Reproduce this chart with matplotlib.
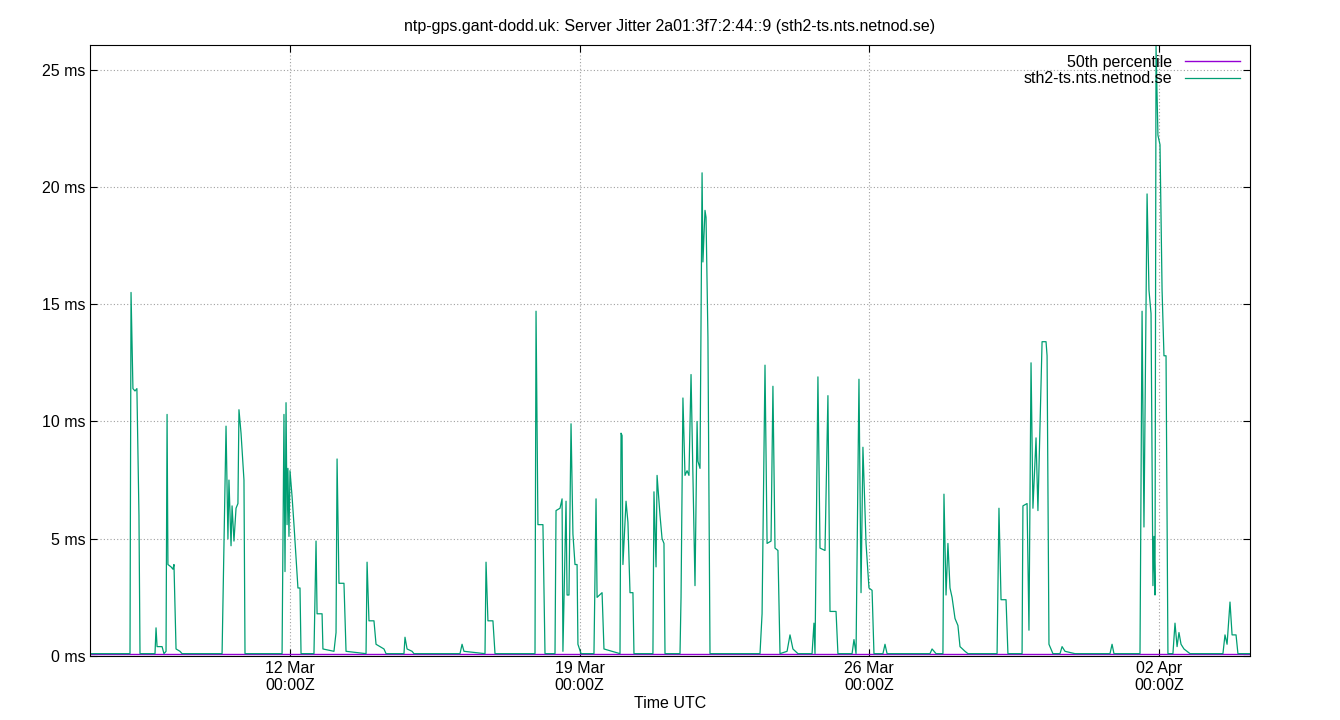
import matplotlib
matplotlib.use("Agg")
import matplotlib.pyplot as plt
import matplotlib.dates as mdates
import numpy as np
import datetime as dt

plt.rcParams['font.family'] = ['Liberation Sans', 'DejaVu Sans']

start = dt.datetime(2025, 3, 7, 4, 0)
hours = [0, 23.2, 23.8, 24.9, 26.1, 27.2, 28.4, 29.0, 37.7, 38.3, 38.9, 41.8, 42.9, 44.1, 44.7, 45.2, 47.0, 48.1, 48.7, 49.9, 52.2, 53.4,
         76.6, 78.9, 80.0, 80.6, 81.8, 82.4, 83.5, 84.7, 85.8, 86.4, 87.6, 89.3, 89.9,
         111.4, 112.5, 113.1, 113.7, 114.3, 114.8, 115.4, 116.0, 117.2, 118.3, 119.5, 120.6, 121.8, 122.4,
         129.9, 131.1, 131.7, 134.6, 135.1, 141.5, 142.7, 143.3, 144.4, 147.3, 148.5,
         160.1, 160.7, 161.8, 164.7, 165.9, 170.5, 171.7, 182.1, 182.7, 183.9, 186.8, 187.9,
         214.6, 215.8, 216.9, 229.1, 229.7, 230.8, 233.7, 234.9,
         258.1, 258.7, 259.8, 262.7, 263.9, 269.7, 270.3, 272.6, 273.8, 274.3, 276.1, 276.7, 277.8, 279.0, 280.1, 281.3, 282.5, 283.0, 284.8,
         292.3, 293.5, 294.1, 297.0, 298.1, 307.4, 308.0, 308.6, 309.1, 310.9, 312.0, 313.2, 314.9, 315.5,
         326.5, 327.1, 328.3, 328.9, 330.6, 331.8, 332.9, 333.5,
         342.2, 342.8, 343.9, 345.1, 346.3, 347.4, 348.6, 349.7, 350.9, 352.1, 352.6, 353.8, 355.0, 355.5, 356.7, 357.3, 358.4, 359.6,
         388.6, 389.8, 390.3, 391.5, 392.7, 395.0, 396.1, 397.3, 399.0, 400.2, 404.3, 406.0, 407.7, 410.6,
         418.8, 419.9, 420.5, 422.2, 423.4, 426.3, 428.0, 429.2, 432.7, 433.8,
         442.0, 443.1, 444.3, 446.0, 447.2, 448.3, 450.1, 451.8, 453.6, 454.7, 459.9, 461.1, 462.3,
         487.2, 488.4, 490.7, 494.7, 495.3, 496.5, 497.6, 498.8, 500.0, 501.7, 503.4, 504.6, 507.5, 509.2,
         526.1, 527.2, 528.4, 531.3, 532.4, 540.6, 541.1, 543.5, 544.6, 545.8, 546.9, 548.7, 549.8, 552.2, 554.5, 555.1, 556.2, 558.5,
         562.6, 563.8, 565.5, 571.3, 591.6, 592.8, 593.9,
         609.0, 610.2, 611.3, 613.1, 614.2, 615.4, 616.5, 617.1, 617.7, 618.3, 619.4, 620.6, 621.8, 622.9, 624.1, 625.2,
         628.1, 629.3, 630.5, 631.6, 632.8, 634.5, 638.0, 657.1, 658.3, 659.5, 661.2, 662.4, 664.7, 665.8, 672.8]
jitter_ms = [0.1, 0.1, 15.5, 11.4, 11.3, 11.4, 6.0, 0.1, 0.1, 1.2, 0.4, 0.4, 0.1, 0.2, 10.3, 3.9, 3.8, 3.7, 3.9, 0.3, 0.2, 0.1,
             0.1, 9.8, 5.0, 7.5, 4.7, 6.4, 4.9, 6.3, 6.5, 10.5, 9.5, 7.5, 0.1,
             0.1, 10.3, 3.6, 10.8, 5.6, 8.0, 5.1, 7.9, 6.8, 5.6, 4.2, 2.9, 2.9, 0.1,
             0.1, 4.9, 1.8, 1.8, 0.3, 0.2, 1.0, 8.4, 3.1, 3.1, 0.2,
             0.1, 4.0, 1.5, 1.5, 0.5, 0.3, 0.1, 0.1, 0.8, 0.3, 0.2, 0.1,
             0.1, 0.5, 0.2, 0.1, 4.0, 1.5, 1.5, 0.1,
             0.1, 14.7, 5.6, 5.6, 0.1, 0.1, 6.2, 6.3, 6.7, 0.2, 6.6, 2.6, 2.6, 9.9, 5.2, 3.9, 3.9, 0.5, 0.1,
             0.1, 6.7, 2.5, 2.7, 0.3, 0.1, 9.5, 9.4, 3.9, 6.6, 5.7, 2.7, 2.7, 0.1,
             0.1, 7.0, 3.8, 7.7, 6.0, 5.0, 4.8, 0.1,
             0.1, 2.5, 11.0, 7.7, 7.9, 7.7, 12.0, 7.7, 3.0, 10.0, 8.3, 8.0, 20.6, 16.8, 19.0, 18.7, 13.6, 0.1,
             0.1, 1.8, 5.0, 12.4, 4.8, 4.9, 11.5, 4.6, 4.5, 0.1, 0.2, 0.9, 0.3, 0.1,
             0.1, 1.4, 0.1, 11.9, 4.6, 4.5, 11.1, 1.9, 1.9, 0.1,
             0.1, 0.7, 0.1, 11.8, 2.7, 8.9, 4.8, 2.9, 2.8, 0.1, 0.1, 0.5, 0.1,
             0.1, 0.3, 0.1, 0.1, 6.9, 2.6, 4.8, 2.9, 2.5, 1.6, 1.3, 0.4, 0.2, 0.1,
             0.1, 6.3, 2.4, 2.4, 0.1, 0.1, 6.4, 6.5, 1.1, 12.5, 6.3, 9.3, 6.2, 13.4, 13.4, 12.8, 0.5, 0.1,
             0.1, 0.4, 0.2, 0.1, 0.1, 0.5, 0.1,
             0.1, 14.7, 5.5, 19.7, 15.6, 14.6, 3.0, 5.1, 2.6, 26.0, 22.2, 21.8, 15.6, 12.8, 12.8, 0.1,
             0.1, 1.4, 0.4, 1.0, 0.5, 0.3, 0.1, 0.1, 0.9, 0.5, 2.3, 0.9, 0.9, 0.1, 0.1]
median_ms = 0.1
tick_dates = [dt.datetime(2025, 3, 12), dt.datetime(2025, 3, 19), dt.datetime(2025, 3, 26), dt.datetime(2025, 4, 2)]
tick_labels = ["12 Mar\n00:00Z", "19 Mar\n00:00Z", "26 Mar\n00:00Z", "02 Apr\n00:00Z"]
y_ticks = [0, 5, 10, 15, 20, 25]

times = [start + dt.timedelta(hours=h) for h in hours]

fig = plt.figure(figsize=(13.4, 7.2), dpi=100)
ax = fig.add_axes([90/1340, 64/720, 1160/1340, 611/720])
ax.plot([times[0], times[-1]], [median_ms, median_ms], color='#9400d3', lw=1, label='50th percentile')
ax.plot(times, jitter_ms, color='#009e73', lw=0.9, label='sth2-ts.nts.netnod.se')
ax.set_xlim(times[0], times[-1])
ax.set_ylim(0, 26.05)
ax.set_xticks(tick_dates)
ax.set_xticklabels(tick_labels)
ax.set_yticks(y_ticks)
ax.set_yticklabels([f"{v} ms" for v in y_ticks])
ax.grid(True, color='#a0a0a0', linestyle=(0, (1, 2)), lw=0.8)
ax.tick_params(direction='in', top=True, right=True, labelsize=11.5, length=5)
for s in ax.spines.values():
    s.set_linewidth(0.8)
ax.set_xlabel("Time UTC", fontsize=11.5, labelpad=2)
ax.set_title("ntp-gps.gant-dodd.uk: Server Jitter 2a01:3f7:2:44::9 (sth2-ts.nts.netnod.se)", fontsize=11.5, pad=10)
leg = ax.legend(loc='upper right', frameon=False, markerfirst=False, fontsize=11.5,
                handlelength=3.5, borderaxespad=0.2, labelspacing=0.1)
for t in leg.get_texts():
    t.set_ha('right')
fig.savefig("out.png", dpi=100)
